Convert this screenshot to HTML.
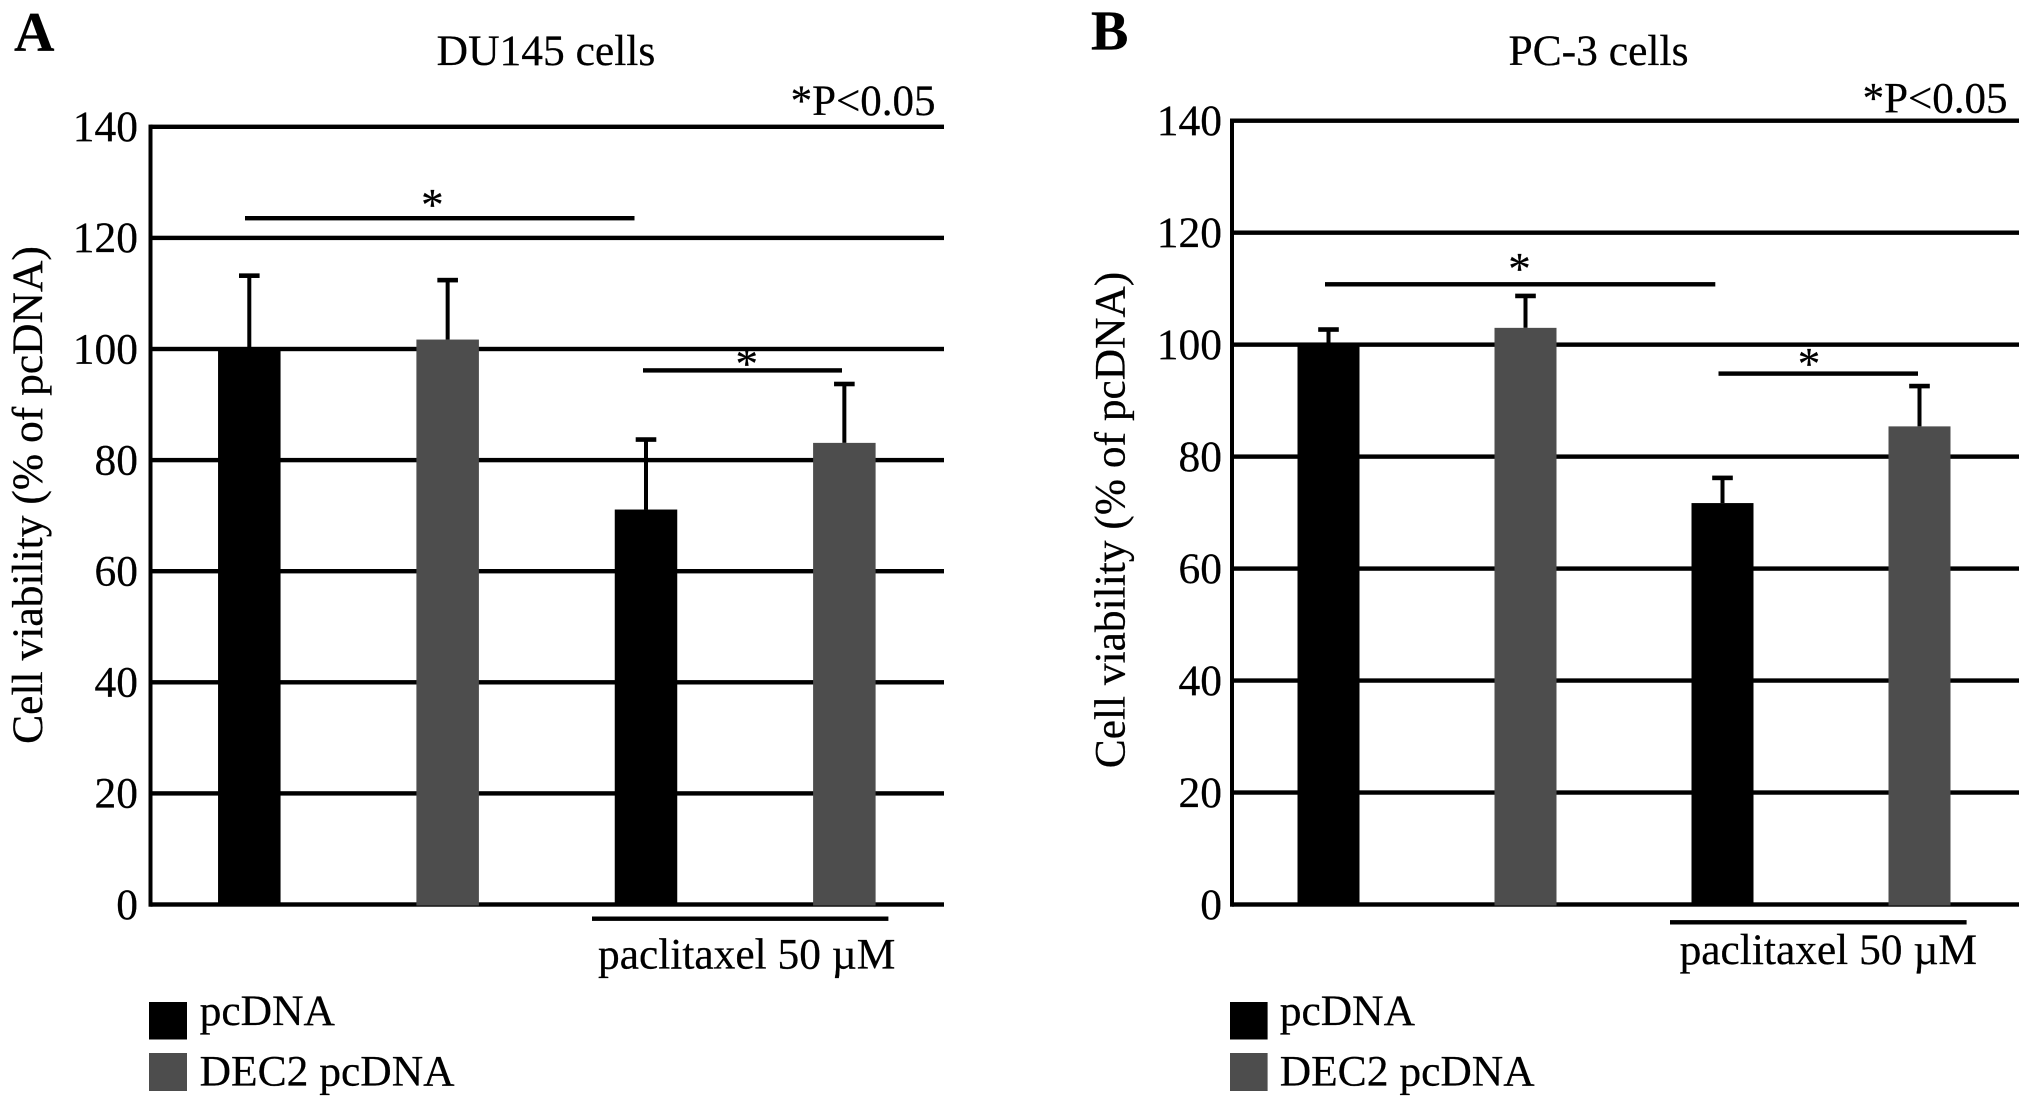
<!DOCTYPE html>
<html lang="en">
<head>
<meta charset="utf-8">
<title>Cell viability in DU145 and PC-3 cells</title>
<style>
  html, body { margin: 0; padding: 0; background: #fff; }
  body { width: 2031px; height: 1107px; overflow: hidden; }
  svg { display: block; }
  text { font-family: "Liberation Serif", "Times New Roman", serif; fill: #000; stroke: #000; stroke-width: 0.25px; }
</style>
</head>
<body>
<svg id="figure" xmlns="http://www.w3.org/2000/svg" width="2031" height="1107" viewBox="0 0 2031 1107">
  <rect x="0" y="0" width="2031" height="1107" fill="#fff"/>

  <g id="panel-a">
    <text x="14" y="51" font-size="56" font-weight="bold">A</text>
    <text x="546" y="65" font-size="43.5" text-anchor="middle">DU145 cells</text>
    <text x="935.5" y="115" font-size="43" text-anchor="end">*P&lt;0.05</text>
    <text transform="translate(42 495) rotate(-90)" font-size="43.5" text-anchor="middle">Cell viability (% of pcDNA)</text>
    <g id="panel-a-plot"></g>
    <rect x="245" y="216" width="389.5" height="4.4" fill="#000"/>
    <text x="432.4" y="220" font-size="45" text-anchor="middle">*</text>
    <rect x="643" y="368.2" width="199" height="4.4" fill="#000"/>
    <text x="746.8" y="379" font-size="45" text-anchor="middle">*</text>
    <rect x="592" y="916.5" width="296.4" height="4.4" fill="#000"/>
    <text x="598" y="968.5" font-size="43.4">paclitaxel 50 µM</text>
    <rect x="149" y="1002" width="38" height="37.5" fill="#000"/>
    <text x="199.6" y="1025" font-size="43.5">pcDNA</text>
    <rect x="149" y="1053" width="38" height="38" fill="#4d4d4d"/>
    <text x="199.6" y="1085.3" font-size="43.5">DEC2 pcDNA</text>
  </g>

  <g id="panel-b">
    <text x="1091" y="49.3" font-size="56" font-weight="bold">B</text>
    <text x="1598.5" y="65" font-size="43.5" text-anchor="middle">PC-3 cells</text>
    <text x="2007.5" y="112.4" font-size="43" text-anchor="end">*P&lt;0.05</text>
    <text transform="translate(1124.4 520) rotate(-90)" font-size="43.4" text-anchor="middle">Cell viability (% of pcDNA)</text>
    <g id="panel-b-plot"></g>
    <rect x="1325" y="282.1" width="390.3" height="4.4" fill="#000"/>
    <text x="1519.5" y="284" font-size="45" text-anchor="middle">*</text>
    <rect x="1718.5" y="371.4" width="199.5" height="4.4" fill="#000"/>
    <text x="1809" y="379" font-size="45" text-anchor="middle">*</text>
    <rect x="1670" y="920.1" width="296.6" height="4.4" fill="#000"/>
    <text x="1679.6" y="964.2" font-size="43.4">paclitaxel 50 µM</text>
    <rect x="1230" y="1002" width="37.6" height="37.5" fill="#000"/>
    <text x="1279.7" y="1025" font-size="43.5">pcDNA</text>
    <rect x="1230" y="1053" width="37.6" height="38" fill="#4d4d4d"/>
    <text x="1279.7" y="1085.3" font-size="43.5">DEC2 pcDNA</text>
  </g>
</svg>

<script>
// Chart data
const tickLabels = [0, 20, 40, 60, 80, 100, 120, 140];
const categories = ['pcDNA', 'DEC2 pcDNA', 'pcDNA + paclitaxel', 'DEC2 pcDNA + paclitaxel'];
const panelAMeans = [100, 101.7, 71.1, 83.1];
const panelAErrorTops = [113.2, 112.4, 83.7, 93.7];
const panelBMeans = [100, 103, 71.7, 85.4];
const panelBErrorTops = [102.7, 108.7, 76.2, 92.6];
const barColors = ['#000000', '#4d4d4d', '#000000', '#4d4d4d'];

const SVG_NS = 'http://www.w3.org/2000/svg';

function makeLinear(domainMax, rangeStart, rangeEnd) {
  return function (v) { return rangeStart + (v / domainMax) * (rangeEnd - rangeStart); };
}

function makeRect(parent, x, y, w, h, fill) {
  const r = document.createElementNS(SVG_NS, 'rect');
  r.setAttribute('x', x);
  r.setAttribute('y', y);
  r.setAttribute('width', w);
  r.setAttribute('height', h);
  r.setAttribute('fill', fill);
  parent.appendChild(r);
  return r;
}

function drawPanel(prefix, hostId, means, errorTops, axisX, plotRight, y0, y140, firstCenter, step, barWidth, labelRight) {
  const host = document.getElementById(hostId);
  const yScale = makeLinear(140, y0, y140);
  const xScale = function (i) { return firstCenter + i * step; };

  tickLabels.forEach(function (tick) {
    const y = yScale(tick);
    const grid = makeRect(host, axisX, y - 2.2, plotRight - axisX, 4.4, '#000');
    
    
    const label = document.createElementNS(SVG_NS, 'text');
    label.setAttribute('x', labelRight);
    label.setAttribute('y', y + 14.3);
    label.setAttribute('font-size', '43.5');
    label.setAttribute('text-anchor', 'end');
    label.textContent = String(tick);
    
    
    host.appendChild(label);
  });

  const axis = makeRect(host, axisX - 2, yScale(140) - 2.2, 4, y0 - yScale(140) + 4.4, '#000');
  
  

  categories.forEach(function (cat, i) {
    const cx = xScale(i);
    const slug = cat.toLowerCase().replace(/[^a-z0-9]+/g, '-');
    const top = yScale(means[i]);
    const errTop = yScale(errorTops[i]);
    const stem = makeRect(host, cx - 2, errTop, 4, top - errTop, '#000');
    
    
    const cap = makeRect(host, cx - 10.3, errTop - 2.3, 20.6, 4.6, '#000');
    
    
    const bar = makeRect(host, cx - barWidth / 2, top, barWidth, y0 - top + 1, barColors[i]);
    
    
  });
}

drawPanel('panel-a', 'panel-a-plot', panelAMeans, panelAErrorTops, 150.5, 944, 904.5, 126.8, 249.3, 198.35, 62.5, 138);
drawPanel('panel-b', 'panel-b-plot', panelBMeans, panelBErrorTops, 1232, 2019, 904.5, 120.7, 1328.5, 197, 62, 1222);
</script>
</body>
</html>
